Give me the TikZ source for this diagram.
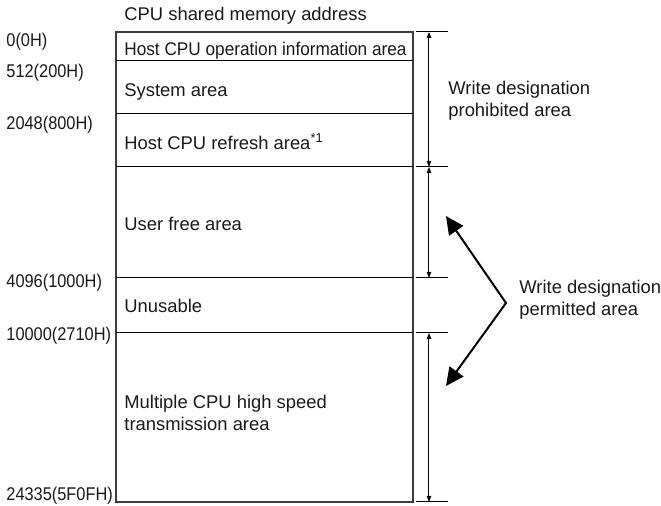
\documentclass[tikz,border=0pt]{standalone}
\usepackage{fontspec}
\setmainfont{Liberation Sans}
\usepackage{graphicx}
\usepackage{tikz}
\usetikzlibrary{arrows.meta, calc}
\definecolor{boxline}{RGB}{60, 60, 60}
\definecolor{labeltext}{RGB}{25, 25, 25}

\begin{document}
\begin{tikzpicture}[x=0.5pt, y=-0.5pt, >=Stealth,
    memtext/.style={anchor=base west, inner sep=0pt, labeltext, font=\fontsize{9.2}{11}\selectfont},
    rowline/.style={black, line width=0.5pt},
    dimline/.style={black, line width=0.5pt, {Triangle[length=3pt,width=2.2pt]}-{Triangle[length=3pt,width=2.2pt]}},
    bigarrow/.style={black, line width=1pt, {Triangle[length=9pt,width=8.5pt]}-{Triangle[length=9pt,width=8.5pt]}}]

  \useasboundingbox (0,0) rectangle (661,506);

  % ---------- Title and addresses ----------
  \node[memtext] (title) at (124,21) {CPU shared memory address};
  \node[memtext] (addr0) at (6,47) {\scalebox{0.89}[1]{0(0H)}};
  \node[memtext] (addr512) at (6,78) {\scalebox{0.89}[1]{512(200H)}};
  \node[memtext] (addr2048) at (6,130) {\scalebox{0.89}[1]{2048(800H)}};
  \node[memtext] (addr4096) at (6,288) {\scalebox{0.89}[1]{4096(1000H)}};
  \node[memtext] (addr10000) at (6,341) {\scalebox{0.89}[1]{10000(2710H)}};
  \node[memtext] (addr24335) at (6,501) {\scalebox{0.89}[1]{24335(5F0FH)}};

  % ---------- Memory map ----------
  \draw[boxline, line width=0.8pt] (116,32) rectangle (413,502);
  \foreach \yy in {61,114,167,278,333}
    \draw[rowline] (116,\yy) -- (413,\yy);

  \node[memtext] (hostinfo) at (124,55.5) {\scalebox{0.935}[1]{Host CPU operation information area}};
  \node[memtext] (sysarea) at (124,96.5) {System area};
  \node[memtext] (refresh) at (124,150) {Host CPU refresh area\textsuperscript{*1}};
  \node[memtext] (userfree) at (124,231) {User free area};
  \node[memtext] (unusable) at (124,313) {Unusable};
  \node[memtext, align=left] (multicpu) at (124,431) {Multiple CPU high speed\\transmission area};

  % ---------- Dimension marks ----------
  \foreach \yy in {32,167,278,333,502}
    \draw[rowline] (416,\yy) -- (448,\yy);
  \coordinate (d0) at (429,32);
  \coordinate (d1) at (429,167);
  \coordinate (d2) at (429,278);
  \coordinate (d3) at (429,333);
  \coordinate (d4) at (429,502);
  \draw[dimline] (d0) -- (d1);
  \draw[dimline] (d1) -- (d2);
  \draw[dimline] (d3) -- (d4);

  % ---------- Right labels ----------
  \node[memtext, align=left] (prohibit) at (448,117) {Write designation\\prohibited area};
  \node[memtext, align=left] (permit) at (519,315.5) {Write designation\\permitted area};

  \coordinate (fork) at (506,303);
  \coordinate (upTip) at (446,216);
  \coordinate (downTip) at (446,386);
  \draw[bigarrow] (upTip) -- (fork) -- (downTip);

\end{tikzpicture}
\end{document}
